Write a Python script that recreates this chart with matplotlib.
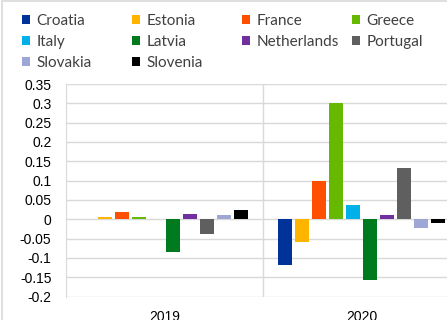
import matplotlib
matplotlib.use("Agg")
import matplotlib.pyplot as plt
from matplotlib.patches import Patch, Rectangle
import numpy as np

years = ["2019", "2020"]
countries = ["Croatia", "Estonia", "France", "Greece", "Italy", "Latvia",
             "Netherlands", "Portugal", "Slovakia", "Slovenia"]
values_2019 = [0.001, 0.007, 0.019, 0.005, 0.0, -0.085, 0.013, -0.038, 0.012, 0.023]
values_2020 = [-0.118, -0.058, 0.099, 0.300, 0.036, -0.156, 0.010, 0.133, -0.022, -0.010]
colors = ["#003399", "#FFB400", "#FF4F00", "#66B800", "#00B0E8", "#007A1E",
          "#7030A0", "#5F5F5F", "#9DA6D5", "#000000"]
yticks = [-0.2, -0.15, -0.1, -0.05, 0, 0.05, 0.1, 0.15, 0.2, 0.25, 0.3, 0.35]
ytick_labels = ["-0.2", "-0.15", "-0.1", "-0.05", "0", "0.05", "0.1", "0.15", "0.2", "0.25", "0.3", "0.35"]

W, H = 447, 320
fig = plt.figure(figsize=(W / 100, H / 100), dpi=100)
ax = fig.add_axes([66 / W, 23.5 / H, 394 / W, 212.5 / H])

pitch = 17 / 197
bw = 13.5 / 197
x = np.arange(len(years))
grid_c = "#D9D9D9"
for i, c in enumerate(countries):
    vals = [values_2019[i], values_2020[i]]
    ax.bar(x + (i - 4.5) * pitch, vals, width=bw, color=colors[i], zorder=3)

ax.set_xlim(-0.5, 1.5)
ax.set_ylim(-0.2, 0.35)
ax.set_yticks(yticks)
ax.set_yticklabels(ytick_labels, fontfamily="Liberation Sans", fontsize=10)
ax.set_xticks(x)
ax.set_xticklabels(years, fontfamily="Liberation Sans", fontsize=10)
ax.tick_params(axis="y", length=0, pad=10.5, colors="black")
ax.tick_params(axis="x", length=0, pad=10)
ax.yaxis.grid(True, color=grid_c, linewidth=1, zorder=0)
ax.set_xticks([0.5], minor=True)
ax.tick_params(axis="x", which="minor", length=0)
ax.xaxis.grid(True, which="minor", color=grid_c, linewidth=1, zorder=0)
for s in ["top", "right", "bottom"]:
    ax.spines[s].set_visible(False)
ax.spines["left"].set_color(grid_c)

# outer chart frame
fig.add_artist(Rectangle((2 / W, -0.1), 1.2, 1 - 1.5 / H + 0.1, transform=fig.transFigure,
                         fill=False, edgecolor="#D9D9D9", linewidth=1.2))

# legend in 4 columns
col_x = [22, 132, 242, 352]
for col in range(4):
    idx = [i for i in range(len(countries)) if i % 4 == col]
    handles = [Patch(facecolor=colors[i], edgecolor="none") for i in idx]
    labels = [countries[i] for i in idx]
    leg = fig.legend(handles, labels, loc="upper left",
                     bbox_to_anchor=(col_x[col] / W, 1 - 14 / H),
                     frameon=False, borderaxespad=0, borderpad=0,
                     handlelength=0.55, handleheight=0.55, handletextpad=0.4,
                     labelspacing=0.45, prop={"family": "Lato", "size": 11})
    for t in leg.get_texts():
        t.set_color("#404040")

fig.savefig("out.png", dpi=100)
